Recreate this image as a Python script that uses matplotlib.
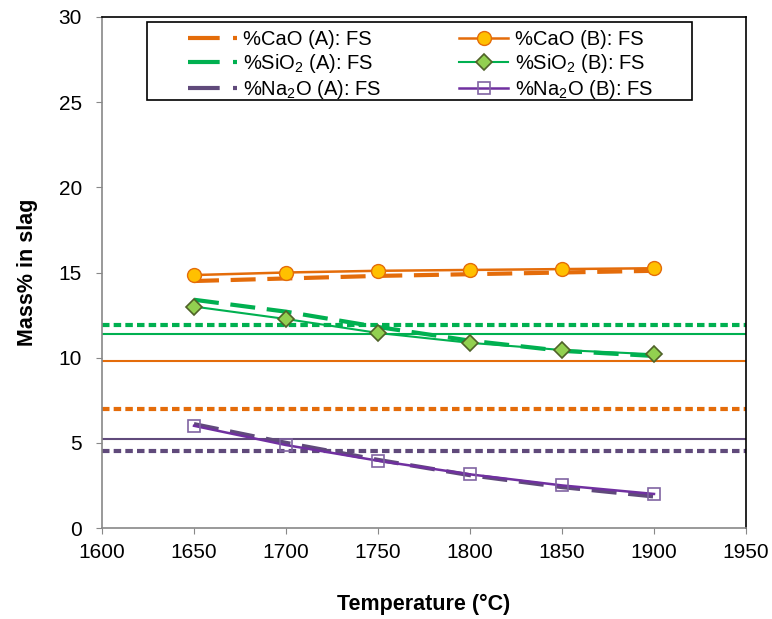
import matplotlib.pyplot as plt
from matplotlib.patches import Rectangle
from matplotlib.lines import Line2D

plt.rcParams['font.family'] = ['Liberation Sans', 'DejaVu Sans']
plt.rcParams['mathtext.fontset'] = 'custom'
plt.rcParams['mathtext.rm'] = 'Liberation Sans'
plt.rcParams['mathtext.it'] = 'Liberation Sans'

# data
temps = [1650, 1700, 1750, 1800, 1850, 1900]
cao_a = [14.5, 14.65, 14.8, 14.9, 15.0, 15.1]
cao_b = [14.85, 15.0, 15.1, 15.15, 15.2, 15.25]
sio2_a = [13.4, 12.7, 11.8, 11.0, 10.4, 10.1]
sio2_b = [13.0, 12.27, 11.45, 10.87, 10.45, 10.2]
na2o_a = [6.1, 5.0, 4.0, 3.1, 2.4, 1.85]
na2o_b = [6.0, 4.87, 3.95, 3.15, 2.5, 2.0]

# horizontal reference levels
ref_dashed = {'cao': 7.0, 'sio2': 11.9, 'na2o': 4.5}
ref_solid = {'cao': 9.8, 'sio2': 11.4, 'na2o': 5.2}

orange = '#E46C0A'
green = '#00B050'
purple_a = '#604A7B'
purple_b = '#7030A0'

W, H = 772, 619
fig = plt.figure(figsize=(W / 100, H / 100), dpi=100)
ax = fig.add_axes([102 / W, 1 - 528 / H, 644 / W, 511 / H])

# horizontal lines
for key, col in [('sio2', green), ('cao', orange), ('na2o', purple_a)]:
    ax.axhline(ref_dashed[key], color=col, lw=3, ls=(0, (1.8, 1.0)), zorder=1)
    ax.axhline(ref_solid[key], color=col, lw=1.5, zorder=1)

dash = (0, (6, 2.8))
l1, = ax.plot(temps, cao_a, color=orange, lw=3, ls=dash, zorder=2)
l2, = ax.plot(temps, cao_b, color=orange, lw=1.8, marker='o', ms=10,
              mfc='#FFC000', mec=orange, mew=1, zorder=3)
l3, = ax.plot(temps, sio2_a, color=green, lw=3, ls=dash, zorder=2)
l4, = ax.plot(temps, sio2_b, color=green, lw=1.5, marker='D', ms=8,
              mfc='#92D050', mec='#4F6228', mew=1.2, zorder=3)
l5, = ax.plot(temps, na2o_a, color=purple_a, lw=3, ls=dash, zorder=2)
l6, = ax.plot(temps, na2o_b, color=purple_b, lw=1.8, marker='s', ms=9,
              mfc='none', mec='#8064A2', mew=1.2, zorder=3)

ax.set_xlim(1600, 1950)
ax.set_ylim(0, 30)
ax.set_xticks(range(1600, 1951, 50))
ax.set_yticks(range(0, 31, 5))
ax.tick_params(direction='out', length=4, color='#888888', labelsize=15)
ax.tick_params(axis='x', pad=7)
ax.tick_params(axis='y', pad=10.5)
for s in ['left', 'bottom']:
    ax.spines[s].set_color('#888888')
    ax.spines[s].set_linewidth(1.2)
for s in ['top', 'right']:
    ax.spines[s].set_color('black')
    ax.spines[s].set_linewidth(1.2)

ax.set_xlabel('Temperature (°C)', fontsize=15.5, fontweight='bold', labelpad=23)
ax.set_ylabel('Mass% in slag', fontsize=15.5, fontweight='bold', labelpad=15)

# legend handles (A lines get a long-dash + dot look like the original)
leg_dash = (0, (7.6, 3.2))
h_a = [Line2D([], [], color=c, lw=3, ls=leg_dash) for c in (orange, green, purple_a)]
handles = [h_a[0], h_a[1], h_a[2], l2, l4, l6]
labels = ['%CaO (A): FS', '%SiO$_2$ (A): FS', '%Na$_2$O (A): FS',
          '%CaO (B): FS', '%SiO$_2$ (B): FS', '%Na$_2$O (B): FS']
leg = fig.legend(handles, labels, ncol=2, loc='upper left',
                 bbox_to_anchor=(188 / W, 1 - 30 / H), fontsize=14.5,
                 frameon=False, handlelength=2.45, columnspacing=3.85,
                 labelspacing=0.16, borderpad=0, borderaxespad=0,
                 handletextpad=0.3)

# legend frame
fig.patches.append(Rectangle((147 / W, 1 - 100 / H), 545 / W, 78 / H,
                             transform=fig.transFigure, fill=True,
                             facecolor='white', edgecolor='black', lw=1.2,
                             zorder=2))
leg.set_zorder(3)

fig.savefig('out.png', dpi=100)
